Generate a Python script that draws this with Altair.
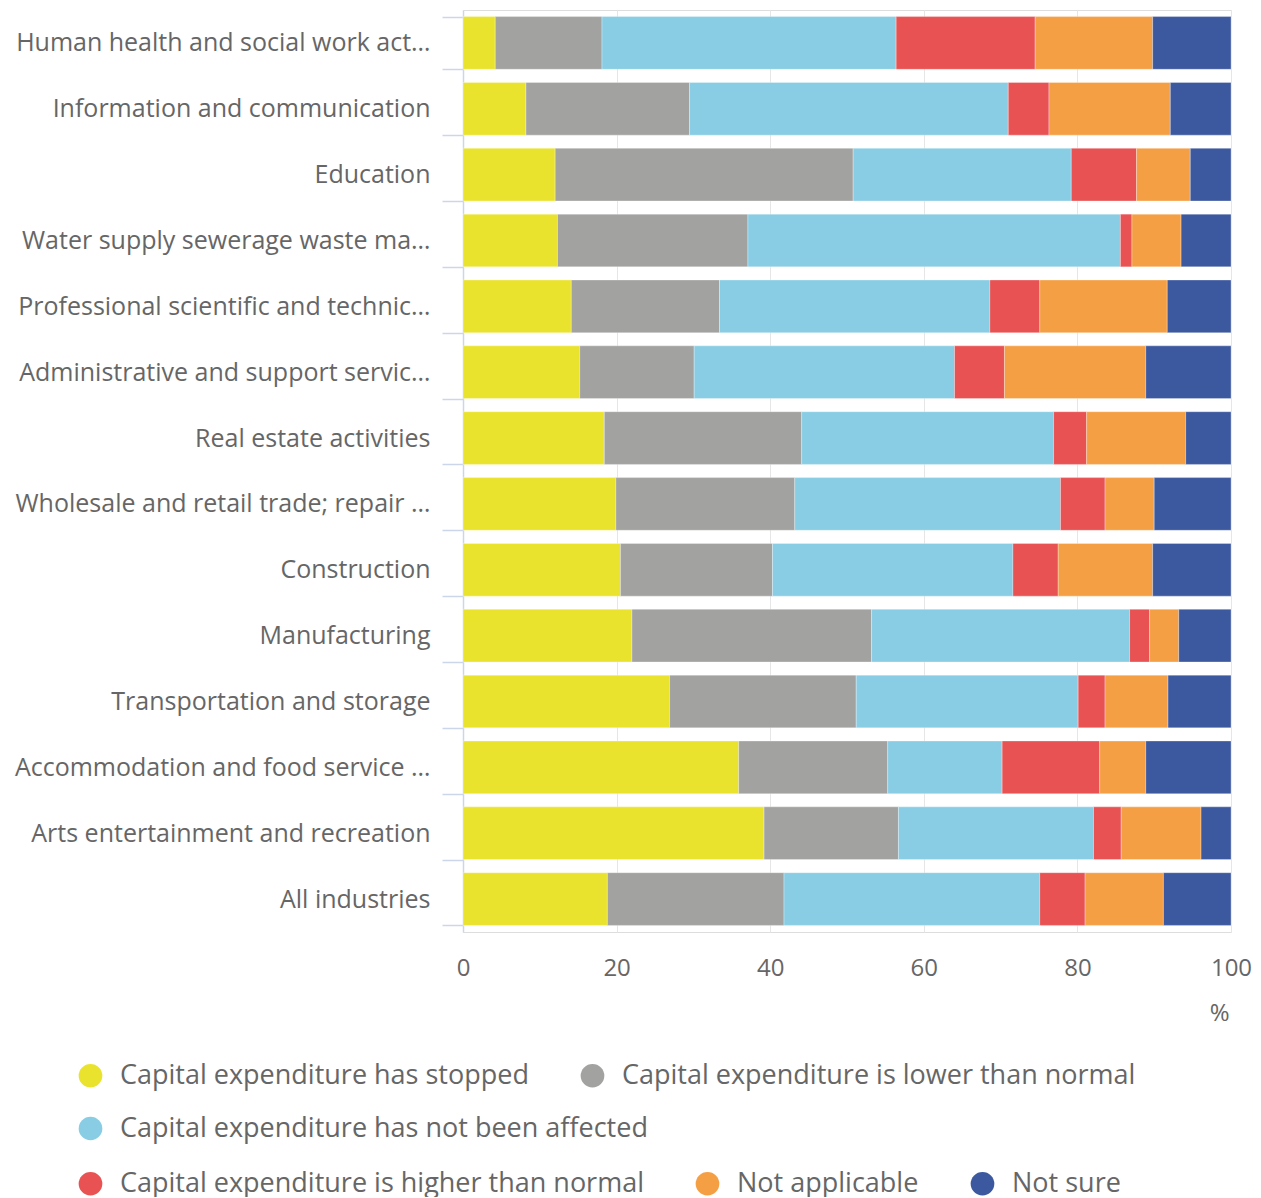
import altair as alt
import pandas as pd

industries = [
    "Human health and social work activities",
    "Information and communication",
    "Education",
    "Water supply sewerage waste management and remediation activities",
    "Professional scientific and technical activities",
    "Administrative and support service activities",
    "Real estate activities",
    "Wholesale and retail trade; repair of motor vehicles and motorcycles",
    "Construction",
    "Manufacturing",
    "Transportation and storage",
    "Accommodation and food service activities",
    "Arts entertainment and recreation",
    "All industries",
]

series = [
    "Capital expenditure has stopped",
    "Capital expenditure is lower than normal",
    "Capital expenditure has not been affected",
    "Capital expenditure is higher than normal",
    "Not applicable",
    "Not sure",
]
colors = ["#eae32e", "#a2a2a0", "#89cde4", "#e85253", "#f59f45", "#3c589e"]

stopped = [4.2, 8.2, 12.0, 12.3, 14.1, 15.2, 18.4, 19.9, 20.5, 22.0, 26.9, 35.9, 39.2, 18.8]
lower = [13.9, 21.3, 38.8, 24.8, 19.3, 14.9, 25.7, 23.3, 19.8, 31.2, 24.3, 19.4, 17.5, 23.0]
not_affected = [38.3, 41.5, 28.4, 48.5, 35.2, 33.9, 32.8, 34.6, 31.3, 33.6, 28.9, 14.9, 25.4, 33.3]
higher = [18.1, 5.3, 8.5, 1.5, 6.5, 6.5, 4.3, 5.8, 5.9, 2.6, 3.5, 12.7, 3.6, 5.9]
not_applicable = [15.3, 15.8, 7.0, 6.4, 16.6, 18.4, 12.9, 6.4, 12.3, 3.8, 8.2, 6.0, 10.4, 10.2]
not_sure = [10.2, 7.9, 5.3, 6.5, 8.3, 11.1, 5.9, 10.0, 10.2, 6.8, 8.2, 11.1, 3.9, 8.8]

values = [stopped, lower, not_affected, higher, not_applicable, not_sure]
rows = []
for si, (s, vals) in enumerate(zip(series, values)):
    for ind, v in zip(industries, vals):
        rows.append({"industry": ind, "series": s, "order": si, "value": v})
df = pd.DataFrame(rows)

FONT = "Open Sans"
TEXT = "#666666"

base = alt.Chart(df).transform_stack(
    stack="value",
    groupby=["industry"],
    as_=["x0", "x1"],
    sort=[alt.SortField("order", order="ascending")],
)

x_enc = alt.X(
    "x0:Q",
    scale=alt.Scale(domain=[0, 100], nice=False),
    axis=alt.Axis(
        values=[0, 20, 40, 60, 80, 100],
        title="%",
        titleX=766,
        titleY=88,
        titleAlign="right",
        titleBaseline="alphabetic",
        titleFontSize=24,
        titleFontWeight="normal",
        titleColor=TEXT,
        titleFont=FONT,
        labelFontSize=24,
        labelColor=TEXT,
        labelFont=FONT,
        labelPadding=24,
        labelFlush=False,
        ticks=False,
        domain=False,
        grid=True,
        gridColor="#e6e6e6",
        gridWidth=1,
    ),
)
y_enc = alt.Y(
    "industry:N",
    sort=industries,
    scale=alt.Scale(paddingInner=0.2, paddingOuter=0.1),
    axis=alt.Axis(
        title=None,
        labelFontSize=25,
        labelColor=TEXT,
        labelFont=FONT,
        labelLimit=419,
        labelPadding=12,
        tickSize=21,
        tickColor="#ccd6eb",
        tickWidth=1.5,
        tickBand="extent",
        domainColor="#ccd6eb",
        domainWidth=1.5,
        grid=False,
    ),
)

groups = [
    (series[0:2], colors[0:2], 1052),
    (series[2:3], colors[2:3], 1105),
    (series[3:6], colors[3:6], 1160),
]

layers = []
for dom, rng, ly in groups:
    layers.append(
        base.transform_filter(alt.FieldOneOfPredicate(field="series", oneOf=dom))
        .mark_bar(stroke="white", strokeWidth=0.5, strokeOpacity=0.6)
        .encode(
            x=x_enc,
            x2="x1:Q",
            y=y_enc,
            color=alt.Color(
                "series:N",
                scale=alt.Scale(domain=dom, range=rng),
                legend=alt.Legend(
                    title=None,
                    orient="none",
                    legendX=-386,
                    legendY=ly,
                    direction="horizontal",
                    symbolType="circle",
                    symbolSize=560,
                    symbolStrokeWidth=0,
                    symbolOpacity=1,
                    labelFontSize=27,
                    labelColor=TEXT,
                    labelFont=FONT,
                    labelLimit=700,
                    labelOffset=16,
                    columnPadding=50,
                ),
            ),
        )
    )

chart = (
    alt.layer(*layers)
    .resolve_scale(color="independent")
    .properties(width=768, height=922, padding={"left": 6, "top": -10, "right": 0, "bottom": 0})
    .configure_view(stroke=None)
    .configure(font=FONT)
)

chart.save("out.html", embed_options={"renderer": "svg", "actions": False})
